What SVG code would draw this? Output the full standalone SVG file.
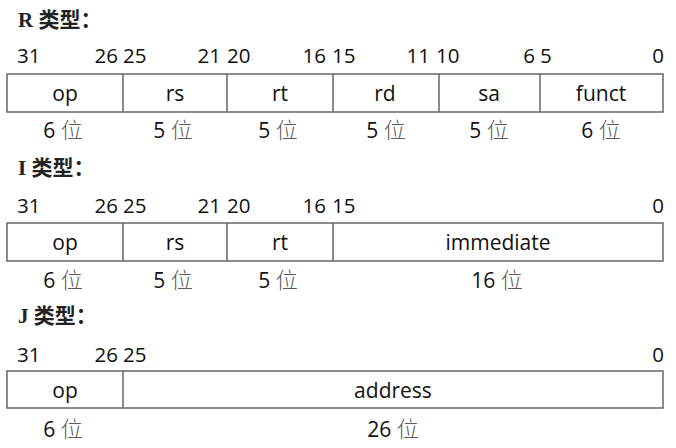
<svg xmlns="http://www.w3.org/2000/svg" width="676" height="448" viewBox="0 0 676 448">
<style>
.t{font-family:"Liberation Serif","Noto Sans CJK SC",serif;font-size:21px;font-weight:bold;fill:#222}
.n{font-family:"Open Sans","Liberation Sans",sans-serif;font-size:20.5px;fill:#111}
.l{font-family:"Open Sans","Liberation Sans",sans-serif;font-size:21px;fill:#111;text-anchor:middle}
.b{font-family:"Open Sans","Liberation Sans",sans-serif;font-size:21px;fill:#111;text-anchor:middle}
.c{font-family:"Noto Sans CJK SC",sans-serif;fill:#5a5a5a;font-weight:300;font-size:22px}
.e{text-anchor:end}
.box{fill:#fff;stroke:#666;stroke-width:1.5}
</style>
<rect width="676" height="448" fill="#fff"/>
<g id="r-type">
<text class="t" x="18" y="27">R <tspan font-family="Noto Sans CJK SC">类型：</tspan></text>
<text class="n" x="17" y="63">31</text>
<text class="n e" x="118" y="63">26</text>
<text class="n" x="123" y="63">25</text>
<text class="n e" x="221" y="63">21</text>
<text class="n" x="227" y="63">20</text>
<text class="n e" x="326" y="63">16</text>
<text class="n" x="332" y="63">15</text>
<text class="n e" x="430" y="63">11</text>
<text class="n" x="436" y="63">10</text>
<text class="n e" x="535" y="63">6</text>
<text class="n" x="540" y="63">5</text>
<text class="n e" x="664" y="63">0</text>
<rect class="box" x="7" y="74" width="656" height="38"/>
<path d="M123 74V112M227 74V112M333 74V112M439 74V112M540 74V112" stroke="#666" stroke-width="1.5"/>
<text class="l" x="65" y="101">op</text>
<text class="l" x="175" y="101">rs</text>
<text class="l" x="280" y="101">rt</text>
<text class="l" x="385" y="101">rd</text>
<text class="l" x="489" y="101">sa</text>
<text class="l" x="601" y="101">funct</text>
<text class="b" x="63" y="138">6 <tspan class="c">位</tspan></text>
<text class="b" x="173" y="138">5 <tspan class="c">位</tspan></text>
<text class="b" x="278" y="138">5 <tspan class="c">位</tspan></text>
<text class="b" x="386" y="138">5 <tspan class="c">位</tspan></text>
<text class="b" x="489" y="138">5 <tspan class="c">位</tspan></text>
<text class="b" x="601" y="138">6 <tspan class="c">位</tspan></text>
</g>
<g id="i-type">
<text class="t" x="18" y="175">I <tspan font-family="Noto Sans CJK SC">类型：</tspan></text>
<text class="n" x="17" y="213">31</text>
<text class="n e" x="118" y="213">26</text>
<text class="n" x="123" y="213">25</text>
<text class="n e" x="221" y="213">21</text>
<text class="n" x="227" y="213">20</text>
<text class="n e" x="326" y="213">16</text>
<text class="n" x="332" y="213">15</text>
<text class="n e" x="664" y="213">0</text>
<rect class="box" x="7" y="223" width="656" height="38"/>
<path d="M123 223V261M227 223V261M333 223V261" stroke="#666" stroke-width="1.5"/>
<text class="l" x="65" y="250">op</text>
<text class="l" x="175" y="250">rs</text>
<text class="l" x="280" y="250">rt</text>
<text class="l" x="498" y="250">immediate</text>
<text class="b" x="63" y="288">6 <tspan class="c">位</tspan></text>
<text class="b" x="173" y="288">5 <tspan class="c">位</tspan></text>
<text class="b" x="278" y="288">5 <tspan class="c">位</tspan></text>
<text class="b" x="497" y="288">16 <tspan class="c">位</tspan></text>
</g>
<g id="j-type">
<text class="t" x="18" y="323">J <tspan font-family="Noto Sans CJK SC">类型：</tspan></text>
<text class="n" x="17" y="362">31</text>
<text class="n e" x="118" y="362">26</text>
<text class="n" x="123" y="362">25</text>
<text class="n e" x="664" y="362">0</text>
<rect class="box" x="7" y="371" width="656" height="37"/>
<path d="M123 371V408" stroke="#666" stroke-width="1.5"/>
<text class="l" x="65" y="398">op</text>
<text class="l" x="393" y="398">address</text>
<text class="b" x="63" y="437">6 <tspan class="c">位</tspan></text>
<text class="b" x="393" y="437">26 <tspan class="c">位</tspan></text>
</g>
<g id="connectors"></g>
</svg>
